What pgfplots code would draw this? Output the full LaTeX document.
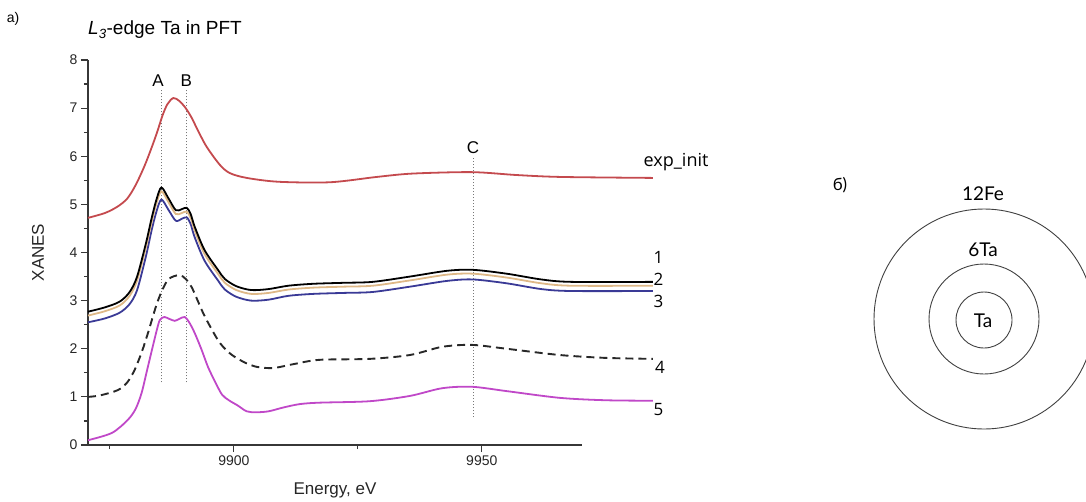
\documentclass[border=0pt]{standalone}
\usepackage{pgfplots}
\pgfplotsset{compat=1.18}
\usepackage{pgfplotstable}
\usepackage{fontspec}
\setmainfont{Liberation Sans}
\newfontfamily\labfont{Open Sans}
\newfontfamily\gillfont{Lato}
\definecolor{cred}{RGB}{196,74,78}
\definecolor{ctan}{RGB}{222,184,135}
\definecolor{cblue}{RGB}{58,58,150}
\definecolor{cmag}{RGB}{192,72,200}
\definecolor{cdash}{RGB}{40,40,40}
\definecolor{caxis}{RGB}{55,55,55}
\definecolor{cdot}{RGB}{120,120,120}

\pgfplotstableread{
x y
9870.6 4.72
9874 4.82
9876.5 4.95
9878.5 5.12
9880.2 5.40
9882 5.80
9883.5 6.20
9884.6 6.52
9885.6 6.84
9886.6 7.08
9887.8 7.21
9889 7.15
9890.3 7.00
9891.5 6.80
9892.6 6.57
9894.5 6.20
9897.2 5.82
9899.2 5.65
9902.6 5.55
9909 5.47
9919.4 5.46
9928.8 5.57
9936 5.64
9948 5.67
9957 5.61
9966 5.57
9984.5 5.55
}\expinit

\pgfplotstableread{
x y1 y2 y3
9870.6 2.77 2.69 2.55
9874 2.86 2.78 2.63
9877 2.98 2.90 2.75
9879 3.18 3.10 2.93
9880.5 3.50 3.42 3.22
9882.3 4.20 4.12 3.93
9883.4 4.70 4.62 4.45
9884.4 5.10 5.02 4.85
9885.4 5.35 5.27 5.10
9886.8 5.13 5.05 4.89
9888.3 4.88 4.80 4.66
9889.5 4.90 4.82 4.70
9890.5 4.93 4.85 4.73
9891.3 4.80 4.72 4.59
9892.1 4.54 4.46 4.32
9894.1 4.05 3.97 3.83
9896.8 3.64 3.56 3.42
9898.2 3.45 3.37 3.23
9900.5 3.30 3.22 3.08
9903.5 3.22 3.14 3.00
9907 3.24 3.16 3.02
9911 3.31 3.23 3.10
9916 3.35 3.27 3.14
9922 3.37 3.29 3.16
9928 3.39 3.31 3.18
9935.5 3.50 3.42 3.29
9943 3.62 3.54 3.41
9948.2 3.64 3.56 3.44
9955 3.56 3.48 3.36
9962 3.44 3.36 3.24
9968 3.39 3.31 3.20
9984.5 3.39 3.31 3.20
}\curvesabc

\pgfplotstableread{
x y
9870.6 1.00
9873 1.03
9876.6 1.14
9878.5 1.30
9880 1.56
9881.5 1.95
9882.7 2.33
9884.7 3.00
9886.7 3.43
9889 3.53
9890.3 3.45
9891.5 3.28
9892.8 2.98
9894.2 2.66
9896.8 2.18
9898.5 1.97
9900.2 1.83
9902.5 1.70
9904.8 1.62
9908 1.60
9912 1.68
9917.3 1.77
9927.4 1.79
9935.5 1.87
9942 2.04
9948 2.08
9955 2.00
9965.7 1.87
9975 1.81
9984.5 1.79
}\curvefour

\pgfplotstableread{
x y
9870.6 0.10
9875.4 0.25
9878.6 0.52
9880.2 0.75
9881.4 1.08
9882.5 1.55
9883.5 1.98
9884.5 2.40
9885.1 2.60
9886 2.66
9887 2.62
9888.1 2.58
9889 2.62
9890.1 2.66
9891 2.55
9892.1 2.33
9893.5 1.98
9894.8 1.62
9896.2 1.32
9897.6 1.05
9899 0.93
9900.8 0.82
9902.6 0.70
9904.5 0.68
9907 0.70
9910 0.78
9913.3 0.85
9917.3 0.88
9927.4 0.91
9935.5 1.02
9942 1.18
9948 1.21
9955 1.12
9965.7 0.98
9975 0.93
9984.5 0.92
}\curvefive

\begin{document}
\begin{tikzpicture}
\path[use as bounding box] (0pt,0pt) rectangle (1086pt,-501pt);
\begin{axis}[
  at={(88pt,-445pt)}, anchor=south west,
  scale only axis, width=494pt, height=385pt,
  xmin=9870.6, xmax=9970.2, ymin=0, ymax=8,
  axis x line*=bottom, axis y line*=left,
  axis line style={-, line width=1.3pt, color=caxis},
  xtick={9900,9950}, minor xtick={9875,9925},
  ytick={0,1,...,8}, minor ytick={0.5,1.5,...,7.5},
  tick align=outside, major tick length=7pt, minor tick length=4pt,
  tick style={line width=1.2pt, color=caxis},
  x tick label style={/pgf/number format/.cd, 1000 sep={}, assume math mode=true},
  y tick label style={/pgf/number format/assume math mode=true},
  ticklabel style={font=\fontsize{14}{16}\selectfont, text=black!85},
  clip=false,
  xlabel={Energy, eV}, ylabel={XANES},
  label style={font=\fontsize{17}{20}\selectfont, text=black!85},
  xlabel style={at={(axis description cs:0.5,-0.117)}, anchor=center},
  ylabel style={at={(axis description cs:-0.101,0.5)}, anchor=center, rotate=0},
  every axis plot/.append style={line width=1.8pt},
]
% vertical guide lines
\addplot[cdot, line width=0.8pt, dash pattern=on 1.5pt off 1.5pt] coordinates {(9885.3,1.3) (9885.3,7.4)};
\addplot[cdot, line width=0.8pt, dash pattern=on 1.5pt off 1.5pt] coordinates {(9890.5,1.3) (9890.5,7.4)};
\addplot[cdot, line width=0.8pt, dash pattern=on 1.5pt off 1.5pt] coordinates {(9948.3,0.58) (9948.3,6.0)};
% curves
\addplot[cred, smooth] table[x=x,y=y] {\expinit};
\addplot[cblue, smooth] table[x=x,y=y3] {\curvesabc};
\addplot[ctan, smooth] table[x=x,y=y2] {\curvesabc};
\addplot[black, smooth] table[x=x,y=y1] {\curvesabc};
\addplot[cdash, smooth, line width=1.9pt, dash pattern=on 8pt off 5pt] table[x=x,y=y] {\curvefour};
\addplot[cmag, smooth] table[x=x,y=y] {\curvefive};
% labels
\node[font=\fontsize{17}{20}\selectfont] at (axis cs:9884.7,7.58) {A};
\node[font=\fontsize{17}{20}\selectfont] at (axis cs:9890.4,7.58) {B};
\node[font=\fontsize{17}{20}\selectfont] at (axis cs:9948.2,6.17) {C};
\node[font=\labfont\fontsize{18}{20}\selectfont, anchor=west, inner sep=0pt] at (axis cs:9982.6,5.88) {exp\_init};
\node[font=\labfont\fontsize{17}{20}\selectfont, anchor=west, inner sep=0pt] at (axis cs:9984.6,3.90) {1};
\node[font=\labfont\fontsize{17}{20}\selectfont, anchor=west, inner sep=0pt] at (axis cs:9984.6,3.45) {2};
\node[font=\labfont\fontsize{17}{20}\selectfont, anchor=west, inner sep=0pt] at (axis cs:9984.6,2.99) {3};
\node[font=\labfont\fontsize{17}{20}\selectfont, anchor=west, inner sep=0pt] at (axis cs:9984.9,1.62) {4};
\node[font=\labfont\fontsize{17}{20}\selectfont, anchor=west, inner sep=0pt] at (axis cs:9984.6,0.73) {5};
\end{axis}
% titles
\node[font=\fontsize{14}{16}\selectfont, anchor=center] at (13pt,-19pt) {a)};
\node[font=\fontsize{19}{22}\selectfont, anchor=west, inner sep=0pt] at (88pt,-30pt) {\textit{L}\textsubscript{\textit{3}}-edge Ta in PFT};
% right panel
\begin{scope}
\clip (0pt,0pt) rectangle (1086pt,-501pt);
\draw[black!75, line width=0.9pt] (984pt,-319pt) circle (110pt);
\draw[black!75, line width=0.9pt] (984pt,-319pt) circle (55pt);
\draw[black!75, line width=0.9pt] (984pt,-320pt) circle (28pt);
\end{scope}
\node[font=\gillfont\fontsize{17}{18}\selectfont] at (840pt,-185pt) {б)};
\node[font=\gillfont\fontsize{19}{20}\selectfont] at (983pt,-194pt) {12Fe};
\node[font=\gillfont\fontsize{19}{20}\selectfont] at (983pt,-250pt) {6Ta};
\node[font=\gillfont\fontsize{19}{20}\selectfont] at (983pt,-321pt) {Ta};
\end{tikzpicture}
\end{document}
